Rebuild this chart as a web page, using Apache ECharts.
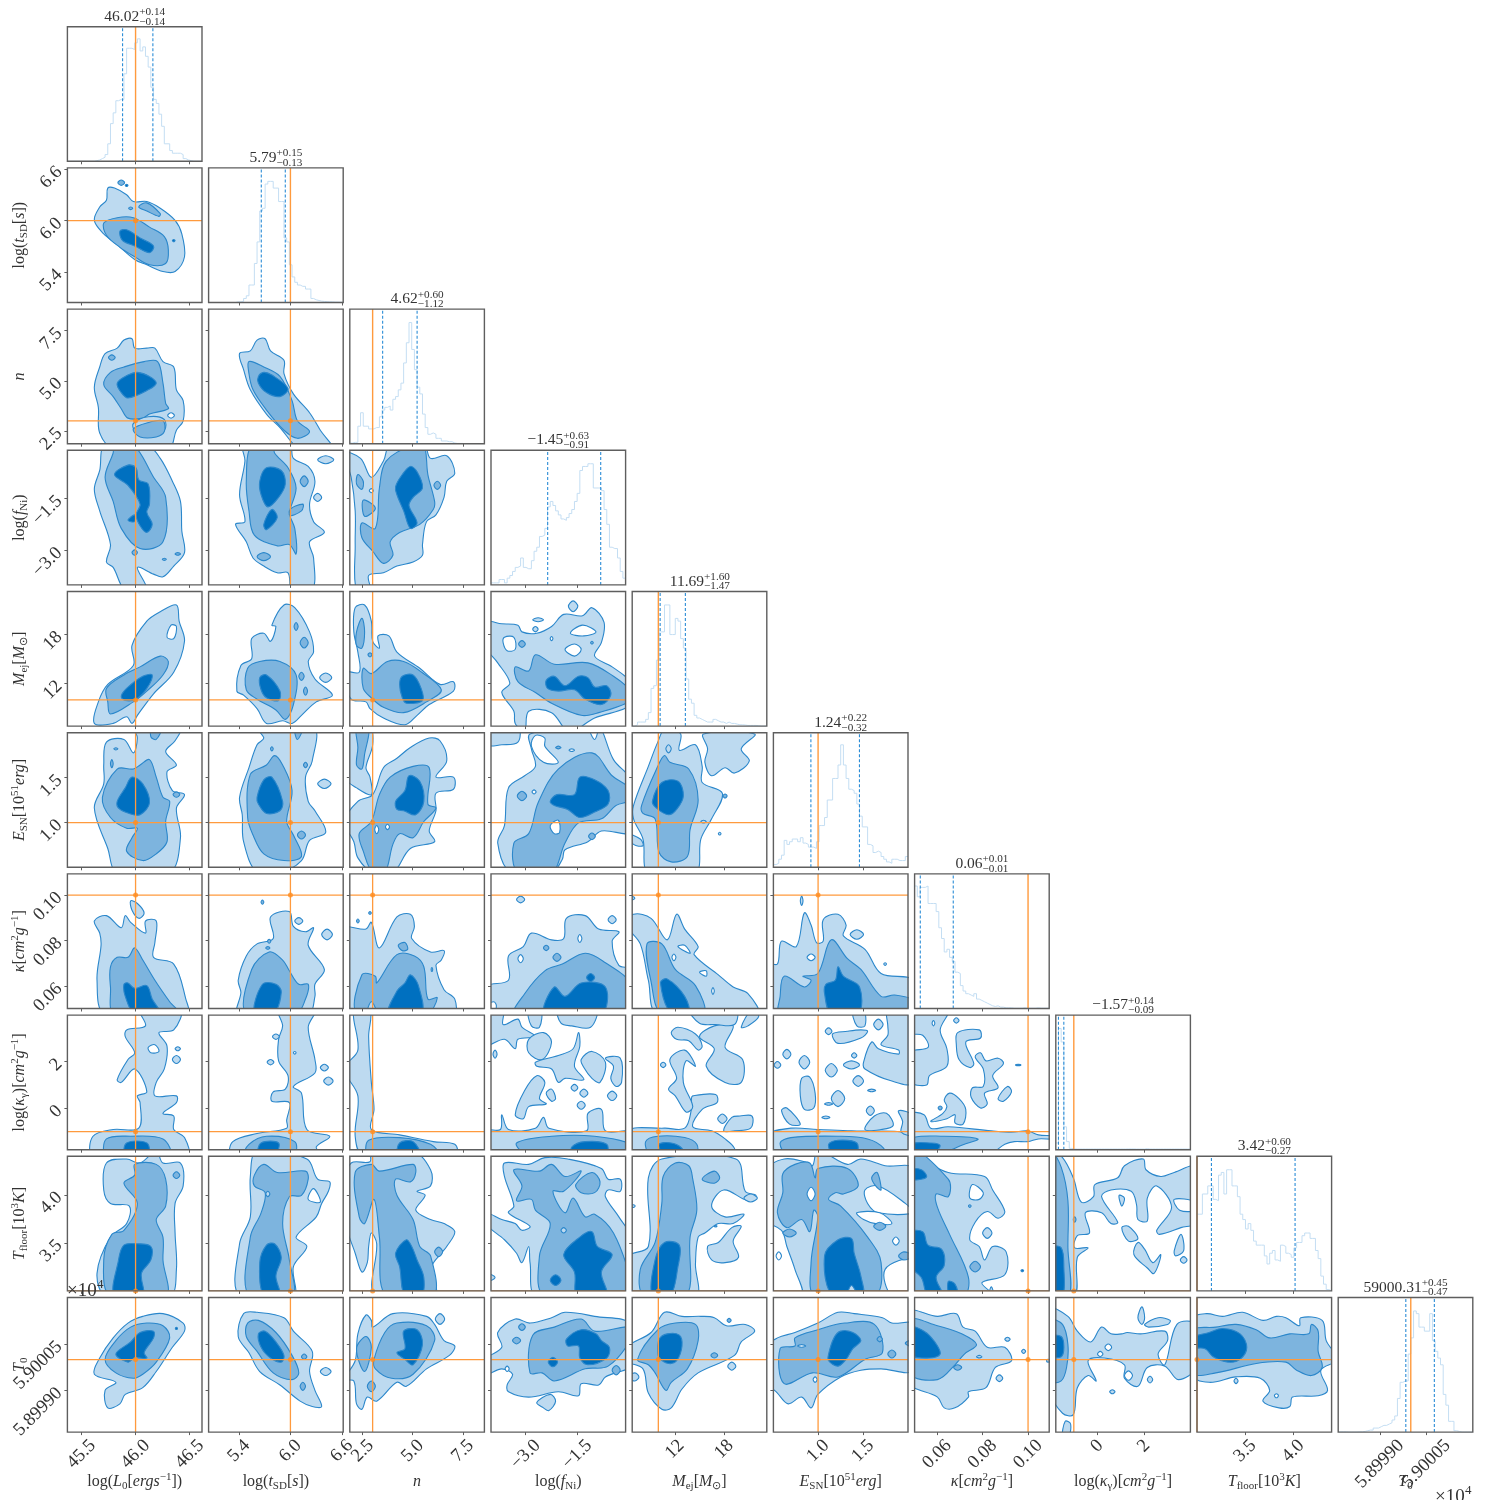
<!DOCTYPE html>
<html><head><meta charset="utf-8">
<style>html,body{margin:0;background:#fff}#c{width:1500px;height:1500px}</style>
<script src="https://cdn.jsdelivr.net/npm/echarts@6/dist/echarts.min.js"></script>
</head><body><div id="c"></div>
<script>
// ---------- parameters ----------
const paramNames=['log({i|L}{sub|0}[{i|ergs}{sup|−1}])','log({i|t}{sub|SD}[{i|s}])','{i|n}','log({i|f}{sub|Ni})','{i|M}{sub|ej}[{i|M}{sub|⊙}]','{i|E}{sub|SN}[10{sup|51}{i|erg}]','{i|κ}[{i|cm}{sup|2}{i|g}{sup|−1}]','log({i|κ}{sub|γ})[{i|cm}{sup|2}{i|g}{sup|−1}]','{i|T}{sub|floor}[10{sup|3}{i|K}]','{i|T}{sub|0}'];
const axisMin=[45.37,5.045,1.86,-4.006,6.82,0.503,0.0501,-1.77,3.0,58997.66];
const axisMax=[46.614,6.616,8.58,-0.097,23.2,2.0,0.1093,3.986,4.4,59002.0];
const tickVals=[[45.5,46,46.5],[5.4,6,6.6],[2.5,5,7.5],[-3,-1.5],[12,18],[1,1.5],[0.06,0.08,0.1],[0,2],[3.5,4],[58999,59000.5]];
const tickLabels=[['45.5','46.0','46.5'],['5.4','6.0','6.6'],['2.5','5.0','7.5'],['−3.0','−1.5'],['12','18'],['1.0','1.5'],['0.06','0.08','0.10'],['0','2'],['3.5','4.0'],['5.89990','5.90005']];
const truths=[46,6,3,null,10,1,0.1,-1,3,59000];
const q16=[45.88,5.66,3.5,-2.36,10.22,0.92,0.0526,-1.656,3.15,58999.84];
const q84=[46.16,5.94,5.22,-0.82,13.29,1.46,0.0671,-1.427,4.02,59000.76];
const titleMain=['46.02','5.79','4.62','−1.45','11.69','1.24','0.06','−1.57','3.42','59000.31'];
const titleUp=['+0.14','+0.15','+0.60','+0.63','+1.60','+0.22','+0.01','+0.14','+0.60','+0.45'];
const titleDown=['−0.14','−0.13','−1.12','−0.91','−1.47','−0.32','−0.01','−0.09','−0.27','−0.47'];

// ---------- 1-D histograms: 50 bins across each axis range, height as percent of panel ----------
const hist0=[0,0,0,0,0,0,0,0,0,0,.5,1,2,3,5,13,28,36,45,46,46,65,84,84,83,88,91,82,85,78,70,55,46,43,35,26,13,13,8,6,6,6,5,2,1,.5,0,0,0,0];
const hist1=[0,0,0,0,0,0,0,0,0,0,.5,.5,.8,3,5,13,13,29,45,68,70,88,90,90,85,85,75,75,48,45,28,19,15,13,12,12,10,10,3,2,1.5,1,.8,.6,.5,.5,.3,.3,.2,.2];
const hist2=[.5,1,1,13,23,13,13,11,11,12,12,20,25,27,28,25,33,35,40,45,60,75,90,70,55,42,37,22,12,7,8,7,4,4,2,2,1.5,1.5,.5,.2,.2,.2,0,0,0,0,0,0,0,0];
const hist3=[1.5,1.5,1.5,4,4,1.5,5,7,10,13,14,20,13,12,12,18,25,28,36,37,42,58,62,59,55,52,49,48,50,53,56,62,68,85,88,88,90,90,72,72,72,70,56,45,28,27,27,20,10,5];
const hist4=[0,1,3,3,3,5,10,28,30,49,70,70,90,90,68,68,80,78,65,58,35,20,17,8,6,5,4,3,3,3,5,4,3,3,2,3,2,2,1.5,1,1,.8,.5,.5,.5,.5,.3,0,0,0];
const hist5=[2,3,6,9,20,17,19,21,21,19,22,18,17,15,15,14,19,31,31,37,50,50,66,66,76,91,76,66,58,57,55,47,38,30,30,17,16,11,12,11,8,6,4,3,6,6,5,5,5,8];
const hist6=[91,83,90,90,91,78,78,78,72,60,52,42,44,38,35,27,26,17,13,11,10,9,11,7,6,5,4,3,2,1.5,2,1,1,.5,.5,.5,.2,.2,.2,.2,.5,.2,.2,.2,.2,.5,.2,.2,.2,.2];
const hist7=[5,90,80,17,6,1,.6,.5,.5,.5,.5,.5,.5,.5,.5,.5,.5,.5,.5,.5,.5,.5,.5,.5,.5,.5,.6,.6,.6,.5,.5,.5,.5,.8,.5,.5,.5,.5,.5,.5,.5,.5,.5,.5,.5,.5,.5,.5,.5,.5];
const hist8=[57,57,72,72,78,78,68,67,86,88,72,90,90,78,78,70,57,53,46,50,45,37,34,34,34,26,20,28,30,23,22,34,33,28,27,25,32,36,36,41,43,43,39,39,30,24,11,5,1,0];
const hist9=[.2,.2,.2,0,0,0,0,.2,.2,.5,1,1.5,1.5,3,3,4,5,5,6,7,9,12,25,37,38,38,58,70,90,88,78,78,75,75,88,68,60,55,50,28,20,8,8,1,.5,0,0,0,0,0];
const hists=[hist0,hist1,hist2,hist3,hist4,hist5,hist6,hist7,hist8,hist9];

// ---------- contours: [level, x,y, x,y, ...] in cells of a 100x100 2-D histogram grid
// (x from the low end of the column's axis, y from the high end of the row's axis).
// [level, x, y, rx, ry] is a small island. Level 1/2/3 = 1,2,3-sigma shades, 0 = empty hole.
const contour_1_0=[[1,20,39,24,29,29,24,30,15,35,15,44,20,49,25,59,25,69,30,80,39,85,49,87,66,80,77,71,77,59,72,50,68,37,57,27,49],[2,27,41,37,37,49,37,61,44,72,51,75,61,73,71,61,72,50,66,39,59,29,50],[2,53,29,59,26,69,34,68,36,59,32],[3,39,47,44,46,54,52,64,58,61,63,50,58,41,54],[2,40,11,2.5,2],[3,44,13,1,.8],[2,47,30,1.5,1],[3,79,54,1,.8]];
const contour_2_0=[[1,20,58,24,43,28,33,37,29,42,23,48,22,50,29,59,29,65,29,71,39,79,43,81,60,86,68,86,83,81,90,75,100,35,100,24,92,23,73],[2,27,56,32,47,42,43,57,39,67,39,71,55,73,70,75,74,61,78,56,81,45,81,40,74,34,65],[1,49,85,60,80,72,82,72,90,60,92,50,90],[2,49,89,61,84,71,83,72,91,66,95,54,95],[3,37,55,45,49,52,47,61,50,66,55,60,60,45,66,40,62],[0,77,79,2.5,2],[2,33,36,2.5,2]];
const contour_2_1=[[1,23,33,31,31,36,23,42,22,46,31,56,38,56,48,63,63,75,77,83,90,92,100,68,100,53,88,43,78,31,60,26,45],[2,30,39,41,43,53,50,62,68,66,83,75,91,66,96,56,90,43,75,33,60,30,48],[3,37,50,41,47,47,49,59,59,53,65,43,62,37,55]];
const contour_3_0=[[1,28,0,24,15,20,29,24,45,32,70,29,83,34,87,43,100,59,100,52,87,64,92,71,94,79,86,87,76,85,60,84,38,78,23,69,6,59,0],[2,34,2,28,20,34,38,40,58,54,73,71,68,73,35,64,20,49,0,35,0],[3,35,18,45,11,51,13,53,22,60,25,61,40,59,46,63,55,59,61,54,56,51,48,54,40,45,26],[3,45,52,50,48,50,53],[2,50,76,2,2],[2,72,81,1.5,.8],[2,82,77,2,1]];
const contour_3_1=[[1,26,0,27,8,23,33,27,53,20,55,28,68,33,80,41,86,51,91,59,91,62,100,77,100,78,80,75,68,86,61,78,53,75,40,79,23,74,12,63,6,60,0],[2,32,0,28,23,30,45,34,63,51,71,60,70,65,77,64,58,60,45,70,40,69,45,60,48,65,28,59,13,49,2,48,0],[3,38,23,43,13,54,15,57,25,52,35,44,42,39,33],[3,41,55,47,44,51,50,43,59],[2,71,23,3,4],[2,41,79,5,3],[1,87,7,6,3],[1,81,35,3,3]];
const contour_3_2=[[1,0,2,8,6,16,20,25,8,30,0,55,0,60,6,72,4,78,17,72,23,70,35,64,48,57,53,54,70,54,78,47,83,35,86,25,91,14,93,15,100,5,100,4,70,4,45,1,20],[2,9,54,19,58,22,28,27,8,47,0,55,0,58,18,63,38,62,44,52,55,37,61,30,68,32,78,25,84,17,75,9,65],[3,34,27,39,18,45,12,50,16,54,28,47,35,44,41,50,54,45,58,40,45,35,33],[2,6,18,10,23,9,29,5,25],[2,10,37,19,43,11,49],[2,65,26,2.5,3],[0,16,30,1.5,1.5]];
const contour_4_0=[[1,20,98,23,82,30,69,49,55,48,40,59,22,69,15,81,10,83,22,87,37,79,60,64,76,52,92,48,98,44,93,34,98],[0,74,34,77,25,81,26,79,35],[2,29,72,42,62,54,56,69,48,75,52,71,62,59,74,49,82,32,91,30,82],[3,40,78,44,72,56,63,63,62,59,72,51,80,43,81]];
const contour_4_1=[[1,21,74,24,55,32,50,32,35,41,31,46,37,50,26,47,25,56,10,64,12,75,30,78,45,74,52,79,65,92,77,80,82,69,92,62,98,55,96,43,98,36,87,26,77],[2,28,73,29,57,38,52,53,52,65,62,63,84,57,95,50,88,36,80],[3,38,64,43,62,53,74,52,81,43,79,39,73],[2,71,38,3,4],[2,65,26,1.5,3],[2,69,63,2,3],[2,72,74,1.5,3],[1,87,64,4.5,3.5]];
const contour_4_2=[[1,0,60,7,60,6,45,3,30,4,12,11,10,16,22,17,37,22,42,21,33,29,33,35,45,52,57,67,69,77,67,77,74,59,84,50,92,41,99,25,94,15,87,12,82,1,80],[2,10,72,10,57,16,61,28,52,40,52,52,59,68,73,57,82,40,90,25,86,16,79],[3,37,69,39,63,47,62,53,72,54,81,42,83,39,79],[2,5,30,9,20,11,30,9,42,5,40],[2,15,47,1.5,1.5]];
const contour_5_0=[[1,29,7,42,5,49,15,52,4,50,0,84,0,80,6,73,14,81,24,74,29,78,43,87,46,81,56,84,78,76,100,37,100,30,86,20,56,27,38,27,24],[2,26,48,37,27,49,27,54,24,61,20,66,33,71,48,76,51,73,66,74,81,66,90,56,95,44,88,48,78,52,71,44,71,32,63],[2,63,0,70,0,66,5,62,3],[3,37,51,43,41,48,33,56,38,61,52,54,61,46,60,38,56],[2,81,46,2.5,2],[2,33,23,1,3],[2,36,12,1.5,.8]];
const contour_5_1=[[1,23,48,30,26,36,9,41,4,36,0,78,0,77,21,72,33,74,51,79,58,87,74,75,80,69,95,53,100,36,100,26,81,25,61],[2,29,63,31,31,43,24,49,17,55,24,62,43,58,66,63,76,69,92,56,95,41,90,33,76],[3,36,48,41,35,47,33,55,51,53,58,43,60,37,53],[2,64,0,70,0,66,5],[2,69,76,3,3],[2,72,24,1.5,2],[1,86,38,5,3.5],[2,47,12,1,1.5]];
const contour_5_2=[[1,2,0,15,0,17,9,12,26,15,33,16,46,5,41,0,33,0,10],[1,0,66,6,51,17,46,25,26,35,19,45,11,59,4,67,6,72,21,64,33,77,33,77,42,64,45,64,58,59,73,63,81,45,86,32,100,17,100,6,93,3,81],[2,5,0,14,0,11,16,9,27,5,24,6,11],[2,7,75,16,66,22,46,30,33,47,25,59,26,58,53,64,56,55,66,47,78,37,75,32,83,26,100,17,100,10,88],[3,34,51,41,43,44,32,52,36,55,51,49,61,40,58,35,57],[0,20,72,1.5,3],[0,28,70,1.5,2]];
const contour_6_0=[[1,20,35,29,31,40,40,43,31,47,36,58,44,58,35,66,35,65,51,64,62,79,67,88,93,89,100,28,100,22,79,25,53,24,44],[1,47,20,52,22,57,29,53,33,48,27],[2,32,69,37,62,45,62,50,55,56,64,65,79,76,95,83,100,35,100,32,84],[3,42,82,45,81,50,85,59,83,63,93,69,100,50,100,43,91]];
const contour_6_1=[[1,22,79,28,61,36,52,48,48,46,32,60,28,63,39,72,43,78,40,74,53,86,71,79,82,79,91,74,100,22,100,24,88],[2,28,100,32,71,45,58,55,64,60,72,67,82,74,82,72,93,65,100],[3,34,100,40,82,50,82,54,88,48,100],[1,88,45,4,4],[1,67,35,3,2.5],[2,40,21,1,1.5],[2,45,50,1.2,1.5],[2,44,55,1.5,1]];
const contour_6_2=[[1,0,41,12,41,16,36,22,55,35,32,45,30,48,39,46,48,60,58,70,57,68,64,64,68,70,86,78,93,77,100,0,100],[2,6,100,9,75,19,76,20,81,35,60,48,61,55,69,58,93,65,92,57,100],[1,13,100,16,95,20,100],[3,29,100,35,87,41,81,45,75,51,83,53,100],[2,36,53,41,51,43,56,39,57],[2,6,35,1,1.5],[2,15,29,1,1],[2,61,71,.6,1.5]];
const contour_7_0=[[1,19,100,19,90,34,85,53,84,54,65,52,60,59,57,50,40,40,50,37,48,45,33,50,28,43,16,44,11,58,8,54,0,84,0,79,11,68,13,74,23,72,40,66,50,65,60,81,60,81,65,71,73,79,75,79,85,87,91,89,100],[0,60,24,65,22,68,27,62,28],[2,29,100,29,92,47,90,71,92,76,100],[3,43,100,44,95,59,95,60,100],[1,82,25,2,1.5],[1,81,33,3,3]];
const contour_7_1=[[1,17,100,18,94,36,88,58,84,58,78,60,65,47,64,48,57,57,55,59,45,52,34,52,18,55,8,52,0,79,0,74,9,79,33,79,43,63,53,69,58,73,85,90,90,80,98,83,100],[2,27,100,30,96,43,90,64,94,63,100],[3,37,100,39,95,52,95,49,100],[1,50,16,2.5,2],[1,46,35,2.5,2],[1,86,39,3,2.5],[1,89,49,3.5,3],[0,64,28,1,1]];
const contour_7_2=[[1,3,0,15,0,14,16,16,50,18,70,16,85,37,89,62,94,78,96,79,100,10,100,4,90,6,60,0,40,6,26],[2,14,100,14,93,37,91,60,96,66,100],[3,36,100,37,95,47,94,52,100]];
const contour_8_0=[[1,29,5,44,2,54,5,66,0,71,5,84,5,86,22,80,35,80,57,81,84,76,100,29,100,22,87,32,60,44,50,46,37,32,35,27,25],[2,50,6,66,6,73,17,73,37,66,47,71,60,71,77,73,100,32,100,27,77,33,58,42,55,52,35,42,20,50,14],[3,35,100,38,77,42,66,52,65,62,67,62,77,55,87,56,100],[2,81,14,2.5,2.5]];
const contour_8_1=[[1,23,100,23,65,31,45,31,15,36,0,73,2,81,17,90,19,89,26,84,35,80,45,65,60,73,67,63,82,63,100],[0,74,32,78,24,83,34],[2,34,14,41,6,51,12,72,11,74,17,69,29,60,30,55,50,60,77,62,100,30,100,31,60,39,42,42,27,34,22],[3,41,100,38,79,43,66,49,65,54,75,50,89,53,100],[1,44,28,1.5,2]];
const contour_8_2=[[1,1,5,15,4,16,0,47,0,60,10,60,22,50,26,56,29,49,40,60,47,70,50,78,56,72,67,68,72,61,82,63,100,19,100,20,65,16,57,14,67,13,79,9,86,4,72,0,47,0,20],[2,4,12,16,6,22,11,47,6,49,12,45,19,34,17,35,29,47,47,52,67,60,74,62,100,27,100,22,60,18,32,11,50,7,45],[3,34,72,42,62,46,67,50,77,55,90,53,100,41,100,37,82],[2,66,71,3,3.5]];
const contour_9_0=[[1,20,57,24,45,34,30,45,19,56,14,71,12,86,19,87,25,78,37,66,55,56,67,43,72,39,79,30,82,28,69,36,63],[2,28,46,36,32,47,22,59,19,71,21,76,30,66,48,56,57,49,60,36,56],[3,36,42,47,33,54,26,64,25,64,30,57,41,59,45,50,45,45,48],[3,81,23,.8,.8]];
const contour_9_1=[[1,22,29,26,12,36,11,56,15,63,25,77,40,75,55,79,69,84,81,77,81,68,77,53,65,38,55,30,41],[2,28,29,29,19,37,17,50,26,62,43,67,56,62,61,48,56,36,40],[3,37,27,42,25,50,33,56,43,54,48,46,45,39,37],[1,87,55,4,3],[2,71,44,2,2],[2,70,66,2,3]];
const contour_9_2=[[1,0,61,4,47,6,27,12,13,16,17,17,22,32,12,57,14,63,20,70,32,78,36,74,43,57,53,42,66,35,63,20,77,13,74,9,83,5,79,3,62],[2,18,46,26,26,35,19,57,21,63,32,47,57,31,60,19,53],[3,35,41,41,38,40,25,50,24,54,35,47,50,41,46],[2,5,38,12,29,16,37,11,55],[2,16,66,3,4],[1,67,16,3.5,4]];
const contour_4_3=[[1,0,23,8,24,20,25,23,30,34,31,45,26,54,17,68,18,75,12,84,23,82,38,77,48,90,56,100,68,100,84,77,94,58,100,45,90,28,89,25,100,18,98,17,89,8,75,14,68,5,53,0,41],[0,9,38,10,34,17,34,18,43,12,44],[0,59,31,68,25,78,30,69,33],[0,55,43,62,39,67,43,62,48],[2,18,56,28,59,33,47,47,54,72,53,91,63,100,74,100,81,80,90,67,92,45,83,33,75,20,67],[3,41,66,47,63,55,70,65,63,72,64,77,71,86,70,89,77,82,84,70,80,62,73,50,74,42,72],[1,61,11,3.5,4],[1,35,21,4,1.5],[1,33,28,2,2],[2,23,39,2.5,2.5],[2,75,38,1,1],[0,45,35,1,1.5]];
const contour_5_3=[[1,0,0,20,0,20,7,8,9,0,9],[1,10,69,13,41,25,32,33,25,30,12,29,1,70,0,77,5,81,0,91,20,100,35,100,52,100,74,82,73,72,81,55,87,53,94,45,100,15,100,5,82],[0,30,10,39,22,50,22,40,10,40,4,33,2],[0,32,44,1.5,1.5],[0,60,13,2,1],[2,17,82,28,75,35,52,50,27,75,15,90,32,100,42,100,50,93,54,82,64,65,67,55,82,45,100,20,100],[3,44,51,49,46,62,46,66,33,77,35,87,43,87,53,77,59,66,63,57,57,47,54],[2,23,47,3.5,3.5],[2,75,77,2.5,2.5],[0,44,69,50,65,51,74,47,75],[2,50,11,2,1]];
const contour_6_3=[[1,0,84,13,79,13,61,24,54,30,44,45,49,54,48,56,33,70,31,80,41,95,43,90,50,95,68,100,71,100,100,0,100],[2,18,100,25,89,40,72,53,67,70,59,85,66,100,82,100,100],[3,40,100,47,84,55,91,67,81,85,84,82,100],[1,22,19,3,2.5],[3,74,77,3,3],[2,49,62,3,3],[2,41,55,2,2],[0,22,63,2,3],[0,66,48,1.5,3],[0,2,98,2,3],[1,90,34,3,3]];
const contour_7_3=[[1,0,100,0,86,7,85,8,74,13,85,33,84,39,76,43,84,71,86,72,73,82,70,85,86,100,87,100,100],[2,19,95,45,90,77,90,100,96,100,100,28,100],[3,60,98,70,94,86,96,85,100,61,100],[1,0,0,9,0,9,7,20,3,23,9,33,16,20,18,18,25,10,18,0,22],[1,28,0,37,0,36,9,30,8],[1,28,18,39,13,45,20,38,33,28,28],[1,50,0,78,0,74,9,60,8,52,6],[1,33,35,50,30,61,25,65,13,66,23,62,38,69,48,55,47,50,50,45,40,34,38],[1,67,33,75,27,85,35,81,50,75,47,69,39],[1,85,32,96,32,97,50,93,53,89,47,91,38],[1,18,74,25,56,34,45,40,50,36,62,41,66,28,68,24,77],[1,41,58,45,55,48,62,45,64],[1,62,54,2.5,2.5],[1,69,58,3,3],[1,67,67,3,3],[1,90,60,3.5,3.5],[1,3,29,1.5,3]];
const contour_8_3=[[1,10,5,28,6,40,1,57,2,82,9,87,17,96,17,96,26,87,25,85,30,95,45,100,61,100,100,34,100,29,79,28,67,23,79,19,72,10,62,0,50,0,42,8,47,18,50,23,55,29,52,13,42,17,37,10,15],[2,17,10,36,11,45,6,55,15,67,11,54,26,46,26,55,42,61,31,70,45,77,43,91,57,100,92,100,100,40,100,36,74,44,50,33,40,30,32,19,33,23,22],[2,63,21,75,12,81,19,77,27,67,27],[3,54,73,66,60,75,56,79,67,90,73,82,86,86,100,64,100,62,86],[3,48,92,4,4],[1,54,55,2,2],[1,0,90,3,3.5]];
const contour_9_3=[[1,0,57,0,46,8,37,5,26,18,16,29,19,45,15,55,11,77,14,100,20,100,50,85,59,80,65,67,64,65,73,50,70,28,74,13,70,12,65,16,57,8,53],[2,29,56,31,28,47,22,67,16,77,25,100,22,100,31,87,51,70,53,47,62,38,56],[3,56,31,67,24,78,27,82,32,88,37,86,45,72,50,66,45,65,36,57,36],[3,46,48,3.5,3.5],[2,19,32,3,2.5],[2,23,22,2.5,2.5],[2,93,54,3,3.5],[1,34,78,44,72,48,77,43,84,39,82],[0,12,53,1.5,2]];
const contour_5_4=[[1,1,54,12,25,19,7,25,0,36,1,35,13,47,9,52,25,52,37,67,45,59,64,51,79,47,100,12,100,8,79,1,64],[1,53,1,91,1,81,12,87,21,76,30,69,26,59,32,54,22,56,12],[1,0,75,6,79,8,84,1,83],[2,7,54,19,25,24,17,28,22,42,27,49,50,43,72,41,92,29,96,20,89,17,64,8,60],[3,15,51,22,37,34,36,38,47,33,57,27,61,18,56],[1,27,12,2,3],[2,69,47,1.5,1.5],[1,53,66,2,1],[1,65,75,1,1]];
const contour_6_4=[[1,0,38,1,30,14,33,26,49,33,30,39,41,49,54,46,60,64,75,75,84,86,89,93,100,19,100,12,79,6,52],[2,11,52,22,52,32,71,47,83,53,100,22,100,14,80],[3,21,81,26,78,39,91,42,100,29,100],[0,34,54,39,53,43,59],[0,50,73,55,72,55,76],[0,31,62,1.5,2.5],[0,60,87,1,2.5],[1,0,18,2,2.5]];
const contour_7_4=[[1,0,100,0,86,24,84,39,84,44,70,44,62,45,60,62,59,63,65,52,70,45,83,59,86,69,92,76,99,74,100],[1,40,72,32,60,27,55,33,47,28,33,39,26,47,38,40,34,38,50,45,68],[2,10,94,19,90,39,91,48,96,47,100,14,100],[3,20,96,29,95,37,99,37,100,24,100],[1,50,16,61,8,75,8,69,24,82,33,81,50,69,50,55,38,61,25],[1,43,0,77,0,76,7,62,7,50,6],[1,29,13,34,9,47,14,52,23,49,26,42,19,33,18],[1,81,9,89,0,94,1,86,8],[1,74,76,80,75,89,75,88,84,76,86,68,86],[1,67,77,3.5,3.5],[1,23,37,2,2]];
const contour_8_4=[[1,0,100,0,75,12,67,12,16,22,2,77,2,84,26,92,29,86,33,68,25,59,37,69,45,83,43,75,50,64,50,54,57,49,60,47,80,47,100],[1,56,67,64,64,74,53,81,52,75,63,79,75,69,79,59,77],[2,6,84,17,64,22,35,23,15,32,5,42,7,45,17,48,40,43,60,40,100,9,100],[3,15,100,17,77,24,64,35,66,34,82,28,100],[2,52,17,61,11,65,16,61,20],[1,88,31,5,3],[1,62,52,1,.5],[1,1,37,1.2,1]];
const contour_9_4=[[1,0,37,14,26,24,11,37,14,51,14,61,15,70,21,84,20,91,25,81,33,76,43,49,56,37,68,29,82,22,83,12,71,8,53,0,47],[2,4,46,19,24,32,19,47,20,49,32,41,53,29,63,25,69,17,56,12,50],[3,19,41,20,31,26,27,35,28,37,36,33,47,27,49,20,45],[1,74,51,3,3],[2,61,43,2.5,2],[1,2,59,3,3],[2,72,17,1.5,1.5]];
const contour_6_5=[[1,0,100,0,67,3,67,6,50,17,54,23,29,28,38,32,51,37,50,37,34,48,30,54,38,52,46,68,56,80,74,100,79,100,100],[2,5,100,5,91,8,76,23,84,28,79,22,76,33,74,43,49,55,63,65,71,80,91,90,90,100,94,100,100,83,100],[3,43,100,38,89,39,82,46,79,48,69,52,76,64,84,63,100],[0,28,62,3,2.5],[1,62,45,5,3.5],[1,21,20,1,3.5],[1,83,67,1,1]];
const contour_7_5=[[1,0,100,0,89,13,84,33,85,58,86,100,89,100,100],[2,5,95,13,91,48,90,70,92,82,99,80,100,11,100],[3,41,96,48,93,62,95,61,100,45,100],[1,68,85,75,75,84,73,89,82,80,85],[1,93,71,100,75,100,89,95,87,96,79],[1,20,60,21,47,27,46,31,58,30,69,23,70],[1,6,71,10,69,20,81,12,81],[1,85,0,100,0,100,50,88,49,68,40,67,35,73,20,78,25,93,29,93,26,80,22,85,15,85,8],[1,44,14,55,12,65,11,70,12,65,17,48,21],[1,59,0,67,0,68,8,62,8],[1,78,7,3.5,4],[1,41,12,2.5,2.5],[1,23,35,4,5],[1,10,29,3,3.5],[1,3,37,2.5,2.5],[1,43,41,4.5,5],[1,63,49,4,4],[1,58,37,6,3],[1,48,62,5,6],[1,72,71,3,3.5],[1,60,30,2,2],[1,73,56,3,1],[1,41,66,3,1],[1,39,76,3,1]];
const contour_8_5=[[1,0,10,8,2,23,4,29,7,33,0,55,6,65,2,83,7,100,10,100,100,0,100],[0,68,25,78,22,98,35,100,42,78,42,70,35],[0,83,84,100,77,100,100,88,100],[0,0,52,6,55,10,67,16,84,21,100,0,100],[0,62,42,79,42,88,50,76,50,67,47],[2,7,13,16,6,27,5,31,16,33,9,55,9,63,22,52,28,46,27,41,32,50,37,70,60,80,79,75,100,31,100,28,79,33,45,30,40,27,56,21,47,10,53,3,42,7,27],[3,44,100,38,74,48,62,58,61,60,72,65,89,66,100],[1,55,100,58,96,62,100],[2,73,16,77,12,80,25,76,22],[2,79,52,4.5,3],[2,12,57,5,3],[2,97,74,4,3],[0,28,28,3,5],[0,91,63,2.5,3],[0,4,74,2,3]];
const contour_9_5=[[1,0,36,3,30,16,26,33,19,48,11,60,12,81,15,88,19,100,20,100,54,80,53,65,54,50,59,33,72,28,82,21,74,11,79,3,71,0,63],[2,5,38,16,36,16,30,33,24,53,19,75,20,81,41,68,46,48,59,29,56,8,64],[3,41,42,45,30,50,25,59,26,65,32,59,38,54,46,48,51,41,47],[0,31,61,1.5,2],[2,79,31,2,2],[2,88,42,3,3],[0,21,36,3,1],[2,100,34,2,3]];
const contour_7_6=[[1,0,100,0,74,7,74,12,84,25,83,57,86,72,87,84,86,92,89,100,90,100,92,92,92,84,94,74,94,67,96,54,100],[2,0,92,22,90,47,92,37,96,15,100,0,100],[3,0,96,12,95,19,97,12,100,0,100],[1,0,0,25,0,19,11,24,25,24,38,11,45,9,52,0,49,0,28,10,24,6,15,0,13],[0,14,6,1,2],[1,32,13,48,11,49,17,38,20,44,36,41,39,33,33,31,22],[1,45,31,49,28,53,34,62,32,66,36,58,45,62,54,52,58,54,66,49,69,42,61,43,54,51,53,51,40],[1,62,62,69,53,72,57,66,64],[1,22,63,26,58,33,62,38,70,36,81,30,80,30,74,24,77,12,79,21,73,24,68],[1,31,4,2,2],[3,77,37,2,.5],[2,19,69,1.5,1.5]];
const contour_8_6=[[1,0,0,7,3,25,12,52,15,58,25,67,41,62,46,54,41,45,49,41,62,48,67,52,77,58,67,68,71,67,88,50,94,59,100,0,100],[0,41,31,43,21,51,27,48,32],[1,54,57,3.5,4],[2,0,0,25,17,25,30,16,28,17,38,26,58,40,90,36,100,0,100],[3,0,10,5,10,9,15,5,17,0,17],[3,0,57,6,56,10,66,20,69,22,81,16,90,21,100,10,100,5,90,0,81],[3,25,93,30,95,32,100,26,100],[2,45,82,4,4],[1,57,100,2,3],[2,41,37,1,1],[3,80,85,1,.8]];
const contour_9_6=[[1,0,11,17,14,31,12,36,22,45,25,54,37,67,37,72,47,60,52,53,67,40,70,40,74,30,82,22,82,17,74,0,63],[2,0,17,17,21,35,27,46,35,37,42,30,50,17,61,0,56],[3,0,22,7,25,15,33,19,42,11,45,0,42],[2,32,52,3,2],[1,69,31,2,1.5],[1,48,44,2,1],[1,63,60,2.5,2.5],[1,81,40,1.5,1.5],[1,99,47,1,1]];
const contour_8_7=[[1,0,0,5,1,13,16,19,34,28,30,29,21,46,16,51,7,65,2,67,10,78,15,88,12,100,8,100,49,93,53,77,58,75,55,86,38,75,22,68,31,68,48,61,47,60,36,56,26,41,25,34,30,46,49,41,50,34,42,22,42,25,57,16,59,14,68,24,68,16,75,14,100,0,100],[1,49,53,54,52,61,61,54,63],[1,61,64,66,69,72,79,78,73,73,87,68,83,58,73],[1,88,70,93,58,95,70,89,74],[1,95,77,2.5,2.5],[1,47,29,51,31,49,37],[0,88,32,100,34,100,40,92,40],[2,0,0,4,8,9,33,9,68,10,100,0,100],[3,0,68,4,68,6,83,5,100,0,100],[2,14,47,1,2]];
const contour_9_7=[[1,0,9,9,14,16,25,26,33,34,22,41,27,49,27,53,26,63,27,81,25,83,32,76,42,81,50,90,20,100,20,100,52,91,61,81,51,68,52,61,66,51,60,51,50,36,45,24,47,30,62,24,58,16,67,13,87,5,86,0,70],[2,0,17,5,20,9,35,8,52,4,62,0,62],[3,0,29,4,29,6,37,4,44,0,43],[0,39,37,2.5,2.5],[0,33,42,2,2],[1,5,100,7,92,11,94,9,100],[1,61,15,64,7,66,15,64,20],[1,66,20,76,15,85,17,83,20,69,22],[1,70,61,2,2.5],[1,42,70,2,1.5],[0,54,58,3,3.5]];
const contour_9_8=[[1,0,16,7,12,19,14,34,11,49,17,59,14,66,15,76,21,77,15,93,17,96,32,100,46,92,54,97,69,90,73,71,74,69,81,61,82,49,77,54,69,47,60,29,59,9,63,0,57],[2,0,25,14,22,29,20,44,24,54,30,69,27,83,27,85,20,90,25,90,40,93,52,85,58,74,54,66,48,44,49,14,56,0,56],[3,0,30,9,26,19,23,32,27,37,37,32,46,23,48,12,44,6,38,0,37],[0,59,73,1.5,1.5],[1,29,62,1.5,2]];
const contours={'1_0':contour_1_0,'2_0':contour_2_0,'2_1':contour_2_1,'3_0':contour_3_0,'3_1':contour_3_1,'3_2':contour_3_2,'4_0':contour_4_0,'4_1':contour_4_1,'4_2':contour_4_2,'4_3':contour_4_3,'5_0':contour_5_0,'5_1':contour_5_1,'5_2':contour_5_2,'5_3':contour_5_3,'5_4':contour_5_4,'6_0':contour_6_0,'6_1':contour_6_1,'6_2':contour_6_2,'6_3':contour_6_3,'6_4':contour_6_4,'6_5':contour_6_5,'7_0':contour_7_0,'7_1':contour_7_1,'7_2':contour_7_2,'7_3':contour_7_3,'7_4':contour_7_4,'7_5':contour_7_5,'7_6':contour_7_6,'8_0':contour_8_0,'8_1':contour_8_1,'8_2':contour_8_2,'8_3':contour_8_3,'8_4':contour_8_4,'8_5':contour_8_5,'8_6':contour_8_6,'8_7':contour_8_7,'9_0':contour_9_0,'9_1':contour_9_1,'9_2':contour_9_2,'9_3':contour_9_3,'9_4':contour_9_4,'9_5':contour_9_5,'9_6':contour_9_6,'9_7':contour_9_7,'9_8':contour_9_8};

// ---------- styling / layout ----------
const FONT='"Liberation Serif"', TEXT='#333', FRAME='#5e5e5e';
const FILL=['#ffffff','#bddaf0','#7db4de','#0070c0'], EDGE='#2b87cb', ORANGE='#ff9a3d';
const LEFT=67.4,TOP=26.7,PITCH=141.2,SIZE=134.6,N=10;
const richStyle={fontFamily:FONT,color:TEXT,lineHeight:20};
const nameStyle={fontFamily:FONT,fontSize:16,color:TEXT,lineHeight:20,rich:{
  i:{...richStyle,fontSize:16,fontStyle:'italic'},
  sub:{...richStyle,fontSize:11,verticalAlign:'bottom'},
  sup:{...richStyle,fontSize:11,verticalAlign:'top'}}};
function labelEm(s){let w=0;for(const ch of s)w+=ch==='.'?.25:ch==='−'?.56:.5;return w;}
function xMargin(c){const w=Math.max(...tickLabels[c].map(labelEm))*18.5;return 6+(w+13)*.354;}
const grid=[],xAxis=[],yAxis=[],series=[],graphic=[];
const straight={type:'line',showSymbol:false,silent:true,animation:false};
function toData(bx,by,r,c){
  const px=bx<=0?-4:bx>=100?104:bx, py=by<=0?-4:by>=100?104:by;
  return [axisMin[c]+px/100*(axisMax[c]-axisMin[c]), axisMax[r]-py/100*(axisMax[r]-axisMin[r])];
}
function expand(p){
  if(p.length===5){const [l,x,y,a,b]=p;return [l,x-a,y,x,y-b,x+a,y,x,y+b];}
  return p;
}
function frameSeries(i,x0,x1,y0,y1){
  return {type:'custom',xAxisIndex:i,yAxisIndex:i,coordinateSystem:'cartesian2d',clip:false,silent:true,animation:false,z:6,
    data:[[x0,y1]],
    renderItem:(params,api)=>{
      const a=api.coord([x0,y1]),b=api.coord([x1,y0]);
      return {type:'rect',shape:{x:a[0],y:a[1],width:b[0]-a[0],height:b[1]-a[1]},style:{fill:'none',stroke:FRAME,lineWidth:1.4}};
    }};
}
let idx=0;
for(let r=0;r<N;r++)for(let c=0;c<=r;c++){
  const i=idx++, diag=r===c;
  grid.push({left:LEFT+PITCH*c,top:TOP+PITCH*r,width:SIZE,height:SIZE,show:true,borderWidth:0,backgroundColor:'#fff',containLabel:false,outerBoundsMode:'none'});
  xAxis.push({type:'value',gridIndex:i,min:axisMin[c],max:axisMax[c],splitLine:{show:false},axisLine:{show:false,onZero:false},
    axisTick:{show:true,length:3,inside:false,lineStyle:{color:FRAME,width:1},customValues:tickVals[c]},
    axisLabel:{show:r===N-1,rotate:45,align:'center',verticalAlign:'middle',margin:xMargin(c),hideOverlap:false,fontFamily:FONT,fontSize:18.5,color:TEXT,customValues:tickVals[c],
      formatter:v=>tickLabels[c][tickVals[c].indexOf(v)]??''},
    name:r===N-1?paramNames[c]:'',nameLocation:'middle',nameGap:40,nameMoveOverlap:false,nameTextStyle:nameStyle});
  if(diag){
    yAxis.push({type:'value',gridIndex:i,show:false,min:0,max:100,axisLine:{onZero:false}});
    const edges=hists[c].map((v,k)=>[axisMin[c]+k/50*(axisMax[c]-axisMin[c]),v]);
    edges.push([axisMax[c],hists[c][49]]);
    series.push({...straight,name:'hist'+c,xAxisIndex:i,yAxisIndex:i,step:'end',data:edges,lineStyle:{color:'#c4def3',width:1},z:2});
    for(const q of [q16[c],q84[c]])
      series.push({...straight,xAxisIndex:i,yAxisIndex:i,data:[[q,0],[q,100]],lineStyle:{color:'#2a8cd6',width:1.1,type:[3,2]},z:3});
    if(truths[c]!==null)
      series.push({...straight,xAxisIndex:i,yAxisIndex:i,data:[[truths[c],0],[truths[c],100]],lineStyle:{color:ORANGE,width:1.4},z:3});
    series.push(frameSeries(i,axisMin[c],axisMax[c],0,100));
    // title: value with stacked upper and lower errors
    const cx=LEFT+PITCH*c+SIZE/2, ty=TOP+PITCH*c;
    const mw=labelEm(titleMain[c])*15.5, sw=Math.max(labelEm(titleUp[c]),labelEm(titleDown[c]))*11.2;
    const split=cx+(mw-sw)/2;
    graphic.push({type:'text',silent:true,z:100,style:{text:titleMain[c],x:split,y:ty-10,align:'right',verticalAlign:'middle',font:'15.5px '+FONT,fill:TEXT}});
    graphic.push({type:'text',silent:true,z:100,style:{text:titleUp[c],x:split,y:ty-14.5,align:'left',verticalAlign:'middle',font:'11.2px '+FONT,fill:TEXT}});
    graphic.push({type:'text',silent:true,z:100,style:{text:titleDown[c],x:split,y:ty-5,align:'left',verticalAlign:'middle',font:'11.2px '+FONT,fill:TEXT}});
  } else {
    yAxis.push({type:'value',gridIndex:i,min:axisMin[r],max:axisMax[r],splitLine:{show:false},axisLine:{show:false,onZero:false},
      axisTick:{show:true,length:3,inside:false,lineStyle:{color:FRAME,width:1},customValues:tickVals[r]},
      axisLabel:{show:c===0,rotate:45,margin:8,hideOverlap:false,fontFamily:FONT,fontSize:18.5,color:TEXT,customValues:tickVals[r],
        formatter:v=>tickLabels[r][tickVals[r].indexOf(v)]??''},
      name:c===0?paramNames[r]:'',nameLocation:'middle',nameGap:38,nameMoveOverlap:false,nameTextStyle:nameStyle});
    const polys=(contours[r+'_'+c]||[]).map(expand).map(p=>{
      const pts=[];for(let k=1;k+1<p.length;k+=2)pts.push(toData(p[k],p[k+1],r,c));
      return {level:p[0],pts};
    });
    series.push({type:'custom',xAxisIndex:i,yAxisIndex:i,coordinateSystem:'cartesian2d',clip:true,silent:true,animation:false,z:2,progressive:0,
      data:polys.map(p=>p.pts[0]),
      renderItem:(params,api)=>{
        const p=polys[params.dataIndex];
        return {type:'polygon',shape:{points:p.pts.map(d=>api.coord(d)),smooth:.35},style:{fill:FILL[p.level],stroke:EDGE,lineWidth:1.1}};
      }});
    if(truths[c]!==null)
      series.push({...straight,xAxisIndex:i,yAxisIndex:i,data:[[truths[c],axisMin[r]],[truths[c],axisMax[r]]],lineStyle:{color:ORANGE,width:1.3},z:3});
    if(truths[r]!==null)
      series.push({...straight,xAxisIndex:i,yAxisIndex:i,data:[[axisMin[c],truths[r]],[axisMax[c],truths[r]]],lineStyle:{color:ORANGE,width:1.3},z:3});
    if(truths[c]!==null&&truths[r]!==null)
      series.push({type:'scatter',xAxisIndex:i,yAxisIndex:i,silent:true,animation:false,clip:true,symbolSize:5,itemStyle:{color:'#ff8c1f'},data:[[truths[c],truths[r]]],z:4});
    series.push(frameSeries(i,axisMin[c],axisMax[c],axisMin[r],axisMax[r]));
  }
}
// offset-scale notes of the last column / row
const note=(x,y)=>[{type:'text',silent:true,z:100,style:{text:'×10',x,y,align:'left',verticalAlign:'middle',font:'19px '+FONT,fill:TEXT}},
  {type:'text',silent:true,z:100,style:{text:'4',x:x+30,y:y-6,align:'left',verticalAlign:'middle',font:'13px '+FONT,fill:TEXT}}];
graphic.push(...note(67,1291),...note(1435,1497));

const chart=echarts.init(document.getElementById('c'),null,{renderer:'canvas',width:1500,height:1500});
chart.setOption({animation:false,backgroundColor:'#fff',grid,xAxis,yAxis,series,graphic,tooltip:{show:false}});
</script></body></html>
